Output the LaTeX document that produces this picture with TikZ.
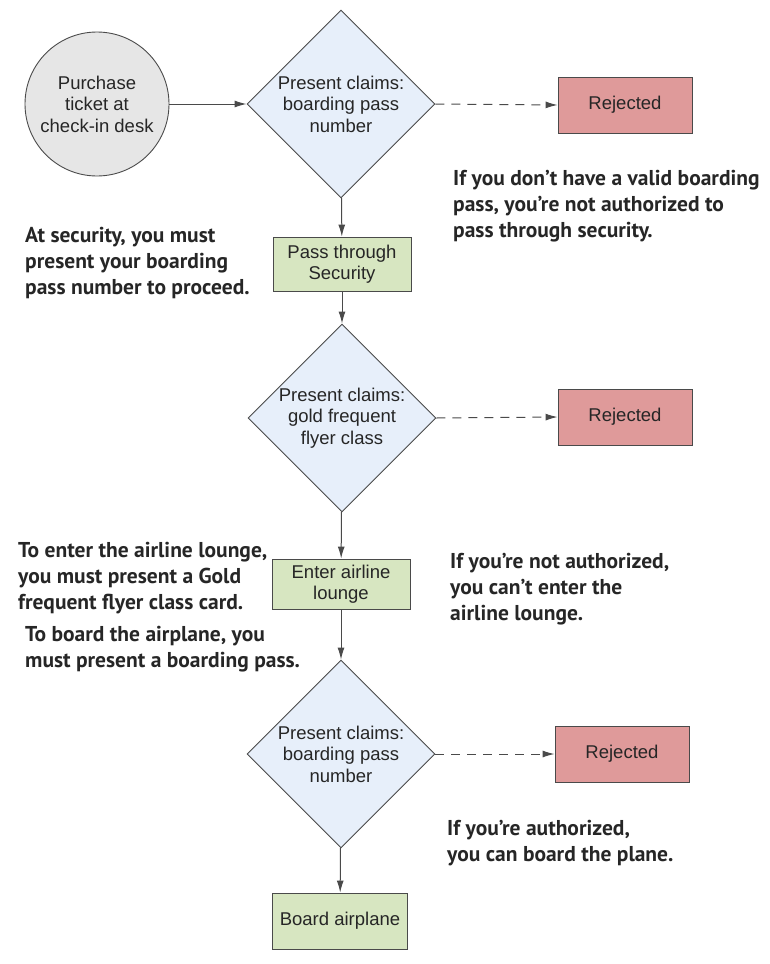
\documentclass[tikz,border=0pt]{standalone}
\usepackage{fontspec}
\setmainfont{Liberation Sans}
\newfontfamily\notefont{PT Sans}
\usepackage{tikz}
\usetikzlibrary{arrows.meta,shapes.geometric,positioning}

\definecolor{claimblue}{HTML}{E7EFFA}
\definecolor{stepgreen}{HTML}{D7E6C1}
\definecolor{rejectred}{HTML}{DF9A9A}
\definecolor{startgray}{HTML}{E6E6E6}
\definecolor{edgegray}{HTML}{4A4A4A}

\begin{document}
\begin{tikzpicture}[x=1pt, y=-1pt,
    every node/.style={font=\fontsize{18.5}{21.5}\selectfont, text=black!85},
    startnode/.style={circle, draw=edgegray, fill=startgray, line width=0.9pt, minimum size=144pt, inner sep=0pt, align=center},
    claim/.style={diamond, draw=edgegray, fill=claimblue, line width=0.9pt, minimum size=188pt, inner sep=0pt, align=center},
    stepbox/.style={rectangle, draw=edgegray, fill=stepgreen, line width=0.9pt, minimum width=138pt, minimum height=54pt, align=center},
    rejectbox/.style={rectangle, draw=edgegray, fill=rejectred, line width=0.9pt, minimum width=134pt, minimum height=56pt},
    note/.style={font=\notefont\bfseries\fontsize{21.5}{26}\selectfont, text=black!85, align=left, anchor=north west, inner sep=0pt},
    flow/.style={draw=edgegray, line width=1pt, -{Latex[length=12pt,width=7pt]}},
    nogo/.style={flow, dashed, dash pattern=on 9pt off 7pt}]

    \useasboundingbox (0,0) rectangle (769,964);

    % Start and first check
    \node[startnode] (Buy) at (97,104) {Purchase\\ticket at\\check-in desk};
    \node[claim] (C1) at (341,104) {Present claims:\\boarding pass\\number};
    \node[rejectbox] (R1) at (625,105) {Rejected};

    % Security and lounge
    \node[stepbox] (Sec) at (342,264) {Pass through\\Security};
    \node[claim] (C2) at (342,418) {Present claims:\\gold frequent\\flyer class};
    \node[rejectbox] (R2) at (625,417) {Rejected};
    \node[stepbox, minimum height=50pt] (Lounge) at (341,584) {Enter airline\\lounge};

    % Boarding
    \node[claim] (C3) at (341,754) {Present claims:\\boarding pass\\number};
    \node[rejectbox] (R3) at (622,754) {Rejected};
    \node[stepbox, minimum width=135pt, minimum height=56pt] (Board) at (340,921) {Board airplane};

    % Notes
    \node[note] (N1) at (453,170) {If you don’t have a valid boarding\\pass, you’re not authorized to\\pass through security.};
    \node[note] (N2) at (25,227) {At security, you must\\present your boarding\\pass number to proceed.};
    \node[note] (N3) at (18,542) {To enter the airline lounge,\\you must present a Gold\\frequent flyer class card.};
    \node[note] (N4) at (450,553) {If you’re not authorized,\\you can’t enter the\\airline lounge.};
    \node[note] (N5) at (25,626) {To board the airplane, you\\must present a boarding pass.};
    \node[note] (N6) at (447,820) {If you’re authorized,\\you can board the plane.};

    % Draw connections
    \draw[flow] (Buy) -- (C1);
    \draw[flow] (C1) -- (Sec);
    \draw[flow] (Sec) -- (C2);
    \draw[flow] (C2) -- (Lounge);
    \draw[flow] (Lounge) -- (C3);
    \draw[flow] (C3) -- (Board);
    \foreach \i in {1,2,3}
        \draw[nogo] (C\i.east) -- (R\i.west);

\end{tikzpicture}
\end{document}
